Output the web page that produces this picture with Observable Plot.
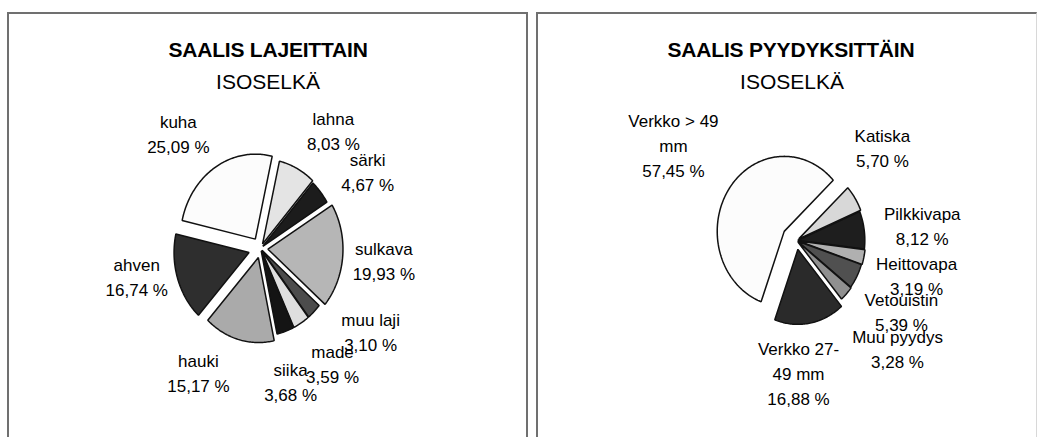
<!DOCTYPE html>
<html>
<head>
<meta charset="utf-8">
<script src="https://cdn.jsdelivr.net/npm/d3@7"></script>
<script src="https://cdn.jsdelivr.net/npm/@observablehq/plot@0.6"></script>
<style>
  html, body { margin: 0; padding: 0; background: #fff; }
  body { width: 1038px; height: 437px; overflow: hidden; position: relative;
         font-family: "Liberation Sans", Arial, sans-serif; color: #000; }
  .panel { position: absolute; top: 12px; height: 450px; box-sizing: border-box;
           border-top: 2px solid #707070; border-left: 2px solid #707070; }
  .title, .sub { position: absolute; width: 420px; text-align: center;
                 font-size: 21px; line-height: 24px; white-space: nowrap; color: #000; }
  .title { font-weight: bold; letter-spacing: -0.2px; }
  .chart { position: absolute; top: 95px; }
</style>
</head>
<body>
<div class="panel" id="p1" style="left:7px;width:521px;border-right:2px solid #707070;"></div>
<div class="panel" id="p2" style="left:536px;width:501px;border-right:1px solid #d8d8d8;"></div>
<div class="title" id="t1" style="left:58px;top:38px;"></div>
<div class="sub" id="s1" style="left:58px;top:70px;"></div>
<div class="title" id="t2" style="left:581px;top:38px;"></div>
<div class="sub" id="s2" style="left:582px;top:70px;"></div>
<div class="chart" id="c1" style="left:9px;"></div>
<div class="chart" id="c2" style="left:538px;"></div>
<script>
// ---------- data ----------
const panelTitles = ["SAALIS LAJEITTAIN", "SAALIS PYYDYKSITTÄIN"];
const panelSubtitle = "ISOSELKÄ";

const speciesNames = ["lahna", "särki", "sulkava", "muu laji", "made", "siika", "hauki", "ahven", "kuha"];
const speciesShares = [8.03, 4.67, 19.93, 3.10, 3.59, 3.68, 15.17, 16.74, 25.09];

const gearNames = ["Katiska", "Pilkkivapa", "Heittovapa", "Vetouistin", "Muu pyydys", "Verkko 27-49 mm", "Verkko > 49 mm"];
const gearShares = [5.70, 8.12, 3.19, 5.39, 3.28, 16.88, 57.45];

// ---------- styling / layout ----------
const speciesStyle = {
  colors: ["#e4e4e4", "#1c1c1c", "#b6b6b6", "#4c4c4c", "#dedede", "#141414", "#aaaaaa", "#2e2e2e", "#fcfcfc"],
  explode: [0.06, 0.04, 0.10, 0.03, 0.03, 0.03, 0.11, 0.16, 0.13],
  labelTweak: [[7.4, 1.70], [6.9, 1.70], [0, 1.65], [-12.6, 1.76], [-3.7, 1.65], [4.3, 1.60], [14.6, 1.67], [6.6, 1.68], [-6.6, 1.75]],
  start: 13,
  frame: {w: 517, h: 342, cx: 251, cy: 153, rx: 75, ry: 85}
};
const gearStyle = {
  colors: ["#d8d8d8", "#1e1e1e", "#b0b0b0", "#505050", "#909090", "#2a2a2a", "#fcfcfc"],
  explode: [0.04, 0.02, 0.03, 0.02, 0.03, 0.12, 0.22],
  labelTweak: [[-11.5, 1.79], [1.2, 1.89], [1.9, 1.85], [2.7, 1.82], [0, 2.08], [9.2, 1.75], [1.3, 2.24]],
  start: 47,
  frame: {w: 496, h: 342, cx: 258, cy: 145, rx: 67, ry: 75}
};

const fmtPct = v => d3.format(".2f")(v).replace(".", ",") + " %";
function wrapName(name, max = 11) {
  const tokens = name.match(/[^\s-]+-?|\s+/g).filter(t => t.trim() !== "");
  const lines = [];
  let cur = "";
  for (const t of tokens) {
    const sep = cur === "" || cur.endsWith("-") ? "" : " ";
    const cand = cur + sep + t;
    if (cur !== "" && cand.length > max) { lines.push(cur); cur = t; }
    else cur = cand;
  }
  if (cur) lines.push(cur);
  return lines.join("\n");
}

function pieChart(names, shares, style) {
  const rad = Math.PI / 180;
  const arcs = d3.pie().sort(null).value(d => d)
    .startAngle(style.start * rad).endAngle((style.start + 360) * rad)(shares);
  const poly = [];
  const labels = [];
  arcs.forEach((a, i) => {
    const mid = (a.startAngle + a.endAngle) / 2;
    const e = style.explode[i];
    const ox = e * Math.sin(mid), oy = -e * Math.cos(mid);
    poly.push({name: names[i], x: ox, y: oy});
    const n = Math.max(2, Math.ceil((a.endAngle - a.startAngle) / rad));
    for (let k = 0; k <= n; k++) {
      const t = a.startAngle + (a.endAngle - a.startAngle) * k / n;
      poly.push({name: names[i], x: ox + Math.sin(t), y: oy - Math.cos(t)});
    }
    const [da, r] = style.labelTweak[i];
    const la = mid + da * rad;
    labels.push({x: r * Math.sin(la), y: -r * Math.cos(la), text: wrapName(names[i]) + "\n" + fmtPct(shares[i])});
  });
  const f = style.frame;
  return Plot.plot({
    width: f.w, height: f.h, margin: 0,
    style: {background: "transparent", fontFamily: "'Liberation Sans', Arial, sans-serif", overflow: "visible"},
    x: {domain: [-f.cx / f.rx, (f.w - f.cx) / f.rx], range: [0, f.w], axis: null},
    y: {domain: [-f.cy / f.ry, (f.h - f.cy) / f.ry], range: [0, f.h], axis: null},
    color: {domain: names, range: style.colors},
    marks: [
      Plot.line(poly, {x: "x", y: "y", z: "name", fill: "name", stroke: "#111", strokeWidth: 1.5,
                       strokeLinejoin: "miter", curve: "linear-closed"}),
      Plot.text(labels, {x: "x", y: "y", text: "text", fontSize: 17, lineHeight: 1.47, fill: "#000"})
    ]
  });
}

document.getElementById("t1").textContent = panelTitles[0];
document.getElementById("t2").textContent = panelTitles[1];
document.getElementById("s1").textContent = panelSubtitle;
document.getElementById("s2").textContent = panelSubtitle;
document.getElementById("c1").append(pieChart(speciesNames, speciesShares, speciesStyle));
document.getElementById("c2").append(pieChart(gearNames, gearShares, gearStyle));
</script>
</body>
</html>
